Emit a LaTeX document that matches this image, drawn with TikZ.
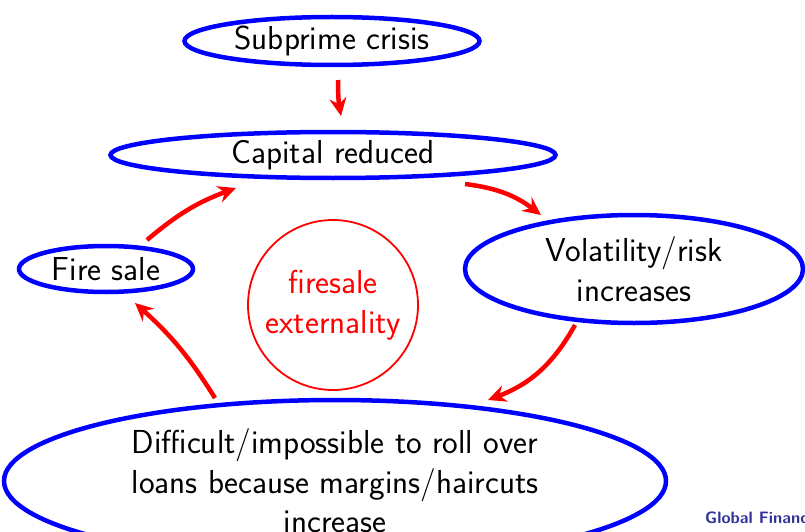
\documentclass[tikz,border=0pt]{standalone}
\usetikzlibrary{shapes.geometric,arrows.meta,calc}
\definecolor{structblue}{RGB}{51,51,153}
\begin{document}
\begin{tikzpicture}[x=1pt,y=1pt,
  box/.style={ellipse,draw=blue,line width=4.5pt,inner sep=0pt,
    font=\sffamily\fontsize{33.2}{39.5}\selectfont,align=center},
  arr/.style={draw=red,line width=4.5pt,
    -{Stealth[length=18pt,width=17pt,inset=6pt]}}]
\clip (0,0) rectangle (805,-532);
\node[box,minimum width=295,minimum height=48] (sub) at (332,-41) {Subprime crisis};
\node[box,minimum width=445,minimum height=46] (cap) at (333,-155) {Capital reduced};
\node[box,minimum width=338,minimum height=108] (vol) at (634,-269) {Volatility/risk\\increases};
\node[box,minimum width=174,minimum height=46] (fire) at (106,-269) {Fire sale};
\node[box,minimum width=662,minimum height=162] (bot) at (335,-481)
  {Difficult/impossible to roll over\\loans because margins/haircuts\\increase};
\node[ellipse,draw=red,line width=1.8pt,minimum width=170,minimum height=170,
  inner xsep=-20pt,inner ysep=0pt,text=red,align=center,
  font=\sffamily\fontsize{33.2}{39.5}\selectfont] (ext) at (333,-305) {firesale\\externality};
\node[anchor=west,inner sep=0pt,text=structblue,
  font=\sffamily\bfseries\fontsize{16.5}{18}\selectfont] (foot) at (705,-518) {Global Financ};
\draw[arr] ($(sub)+(6,-39)$) to[bend right=5] ($(cap)+(8,39)$);
\draw[arr] ($(cap)+(132,-29)$) to[bend left=15] ($(vol)+(-93,54)$);
\draw[arr] ($(vol)+(-59,-56)$) to[bend left=20] ($(bot)+(153,81)$);
\draw[arr] ($(bot)+(-120,83)$) to[bend right=8] ($(fire)+(29,-34)$);
\draw[arr] ($(fire)+(41,29)$) to[bend left=10] ($(cap)+(-97,-33)$);
\end{tikzpicture}
\end{document}
